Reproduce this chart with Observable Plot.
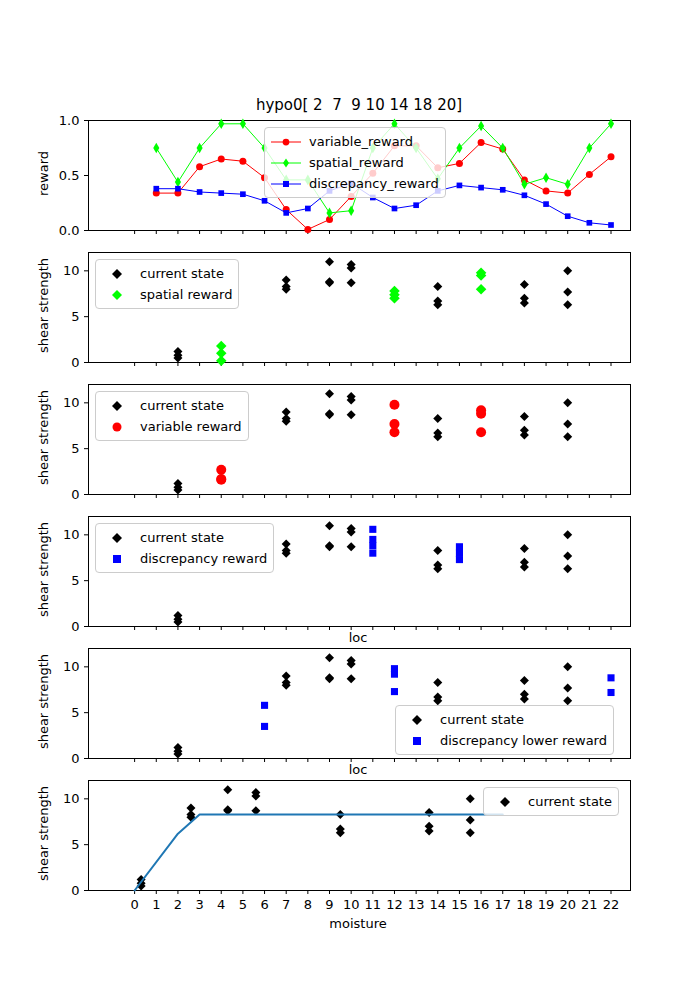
<!DOCTYPE html>
<html><head><meta charset="utf-8">
<script src="https://cdn.jsdelivr.net/npm/d3@7"></script>
<script src="https://cdn.jsdelivr.net/npm/@observablehq/plot@0.6"></script>
<style>
body{margin:0;background:#fff;font-family:"DejaVu Sans",sans-serif}
#wrap{position:relative;width:700px;height:1000px}
.pl{position:absolute;left:0}
.lg{position:absolute;background:rgba(255,255,255,0.8);border:1px solid #ccc;border-radius:4px;font-size:13px;padding:3px 6px;line-height:21px}
.lg div{display:flex;align-items:center;gap:8px}
.t{position:absolute;font-size:13px;width:700px;text-align:center;white-space:pre}
</style></head><body>
<div id="wrap"></div>
<script>
const locs = d3.range(1, 23);
const variableReward = [0.34,0.34,0.58,0.65,0.63,0.48,0.19,0.01,0.1,0.31,0.52,0.77,0.77,0.57,0.61,0.8,0.74,0.46,0.36,0.34,0.51,0.67];
const spatialReward = [0.75,0.44,0.75,0.97,0.97,0.75,0.46,0.46,0.16,0.18,0.75,0.97,0.75,0.47,0.75,0.95,0.75,0.42,0.48,0.42,0.75,0.97];
const discrepancyReward = [0.38,0.38,0.35,0.34,0.33,0.27,0.16,0.2,0.36,0.43,0.3,0.2,0.23,0.36,0.41,0.39,0.37,0.32,0.24,0.13,0.07,0.05];

const stateLoc = [2,2,2,7,7,7,9,9,9,10,10,10,14,14,14,18,18,18,20,20,20];
const stateMoist = [0.3,0.3,0.3,2.6,2.6,2.6,4.3,4.3,4.3,5.6,5.6,5.6,9.5,9.5,9.5,13.6,13.6,13.6,15.5,15.5,15.5];
const stateShear = [1.2,0.8,0.5,9,8.3,8,11,8.8,8.7,10.7,10.3,8.7,8.3,6.7,6.3,8.5,7,6.5,10,7.7,6.3];

const spatialLoc = [4,4,4,12,12,12,16,16,16];
const spatialShear = [1.8,1.0,0.2,7.8,7.4,7.0,9.8,9.5,8.0];
const variableLoc = [4,4,4,12,12,12,16,16,16];
const variableShear = [2.7,1.7,1.6,9.8,7.7,6.8,9.2,8.8,6.8];
const discLoc = [11,11,11,11,15,15,15];
const discShear = [10.6,9.5,8.8,8.0,8.7,8.0,7.3];
const discLowLoc = [6,6,12,12,12,22,22];
const discLowShear = [5.8,3.5,9.8,9.2,7.3,8.8,7.2];

const fitMoist = [0,2,3,17];
const fitShear = [0,6.2,8.3,8.3];

const rows = (xs, ys) => xs.map((x, i) => ({x, y: ys[i]}));
const wrap = document.getElementById("wrap");

function panel(top, marks, opts = {}) {
  const mt = 10, mb = opts.mb ?? 12;
  const p = Plot.plot({
    width: 700, height: 110 + mt + mb,
    marginLeft: 88, marginRight: 70, marginTop: mt, marginBottom: mb,
    style: {fontSize: "13px", fontFamily: "DejaVu Sans", overflow: "visible"},
    x: {domain: [-2.13, 22.9], ticks: d3.range(0, 23), tickFormat: opts.xlab ? d => d : () => "", label: null, tickSize: 4},
    y: opts.y ?? {domain: [0, 12], ticks: [0, 5, 10], label: null, tickSize: 4},
    marks: [Plot.frame({stroke: "black"}), ...marks]
  });
  p.classList.add("pl");
  p.style.top = (top - mt) + "px";
  wrap.appendChild(p);
}
function text(s, x, y, opts = {}) {
  const d = document.createElement("div");
  d.className = "t"; d.textContent = s;
  d.style.top = y + "px"; d.style.left = (x - 350) + "px";
  if (opts.size) d.style.fontSize = opts.size;
  if (opts.rot) {d.style.transform = "rotate(-90deg)";}
  wrap.appendChild(d);
}
function marker(sym, color, k = 1) {
  const shapes = {
    diamond: `<path d="M6,${6-5*k} L${6+5*k},6 L6,${6+5*k} L${6-5*k},6Z" fill="${color}"/>`,
    tdiamond: `<path d="M6,1.5 L9,6 L6,10.5 L3,6Z" fill="${color}"/>`,
    circle: `<circle cx="6" cy="6" r="${4.5*k}" fill="${color}"/>`,
    square: `<rect x="${6-4*k}" y="${6-4*k}" width="${8*k}" height="${8*k}" fill="${color}"/>`
  };
  return `<svg width="12" height="12">${shapes[sym]}</svg>`;
}
function legend(items, x, y, line) {
  const d = document.createElement("div");
  d.className = "lg"; d.style.left = x + "px"; d.style.top = y + "px";
  d.innerHTML = items.map(([sym, color, lab]) => line
    ? `<div><svg width="30" height="12"><line x1="0" x2="30" y1="6" y2="6" stroke="${color}"/><g transform="translate(9,0)">${marker(sym, color, 0.75).replace(/<\/?svg[^>]*>/g, "")}</g></svg>${lab}</div>`
    : `<div><span style="width:30px;display:flex;justify-content:center">${marker(sym, color)}</span>${lab}</div>`).join("");
  wrap.appendChild(d);
}

text("hypo0[ 2  7  9 10 14 18 20]", 359, 96, {size: "15px"});

// panel 1: rewards
panel(120, [
  Plot.line(rows(locs, variableReward), {x: "x", y: "y", stroke: "red", strokeWidth: 1}),
  Plot.dot(rows(locs, variableReward), {x: "x", y: "y", fill: "red", r: 3.5}),
  Plot.line(rows(locs, spatialReward), {x: "x", y: "y", stroke: "#00ff00", strokeWidth: 1}),
  Plot.dot(rows(locs, spatialReward), {x: "x", y: "y", fill: "#00ff00", symbol: "diamond", r: 3.2}),
  Plot.line(rows(locs, discrepancyReward), {x: "x", y: "y", stroke: "blue", strokeWidth: 1}),
  Plot.dot(rows(locs, discrepancyReward), {x: "x", y: "y", fill: "blue", symbol: "square", r: 3.2})
], {y: {domain: [0, 1], ticks: [0, 0.5, 1], tickFormat: ".1f", label: null, tickSize: 4}});
legend([["circle", "red", "variable_reward"], ["tdiamond", "#00ff00", "spatial_reward"], ["square", "blue", "discrepancy_reward"]], 264, 127, true);

const diamond = (xs, ys, c) => Plot.dot(rows(xs, ys), {x: "x", y: "y", fill: c, symbol: "square", rotate: 45, r: c === "black" ? 3.6 : 4.2});
const state = (xs) => diamond(xs, stateShear, "black");

panel(252, [state(stateLoc), diamond(spatialLoc, spatialShear, "#00ff00")]);
legend([["diamond", "black", "current state"], ["diamond", "#00ff00", "spatial reward"]], 95, 259);

panel(384, [state(stateLoc), Plot.dot(rows(variableLoc, variableShear), {x: "x", y: "y", fill: "red", r: 5})]);
legend([["diamond", "black", "current state"], ["circle", "red", "variable reward"]], 95, 391);

panel(516, [state(stateLoc), Plot.dot(rows(discLoc, discShear), {x: "x", y: "y", fill: "blue", symbol: "square", r: 4})]);
legend([["diamond", "black", "current state"], ["square", "blue", "discrepancy reward"]], 95, 523);
text("loc", 358, 630);

panel(648, [state(stateLoc), Plot.dot(rows(discLowLoc, discLowShear), {x: "x", y: "y", fill: "blue", symbol: "square", r: 4})]);
legend([["diamond", "black", "current state"], ["square", "blue", "discrepancy lower reward"]], 395, 705);
text("loc", 358, 762);

panel(780, [
  state(stateMoist),
  Plot.line(rows(fitMoist, fitShear), {x: "x", y: "y", stroke: "#1f77b4", strokeWidth: 2})
], {xlab: true, mb: 25});
legend([["diamond", "black", "current state"]], 483, 787);
text("moisture", 358, 916);

// y labels
[["reward", 175], ["shear strength", 307], ["shear strength", 439], ["shear strength", 571], ["shear strength", 703], ["shear strength", 835]]
  .forEach(([s, y]) => text(s, 43, y - 9, {rot: true}));
</script>
</body></html>
